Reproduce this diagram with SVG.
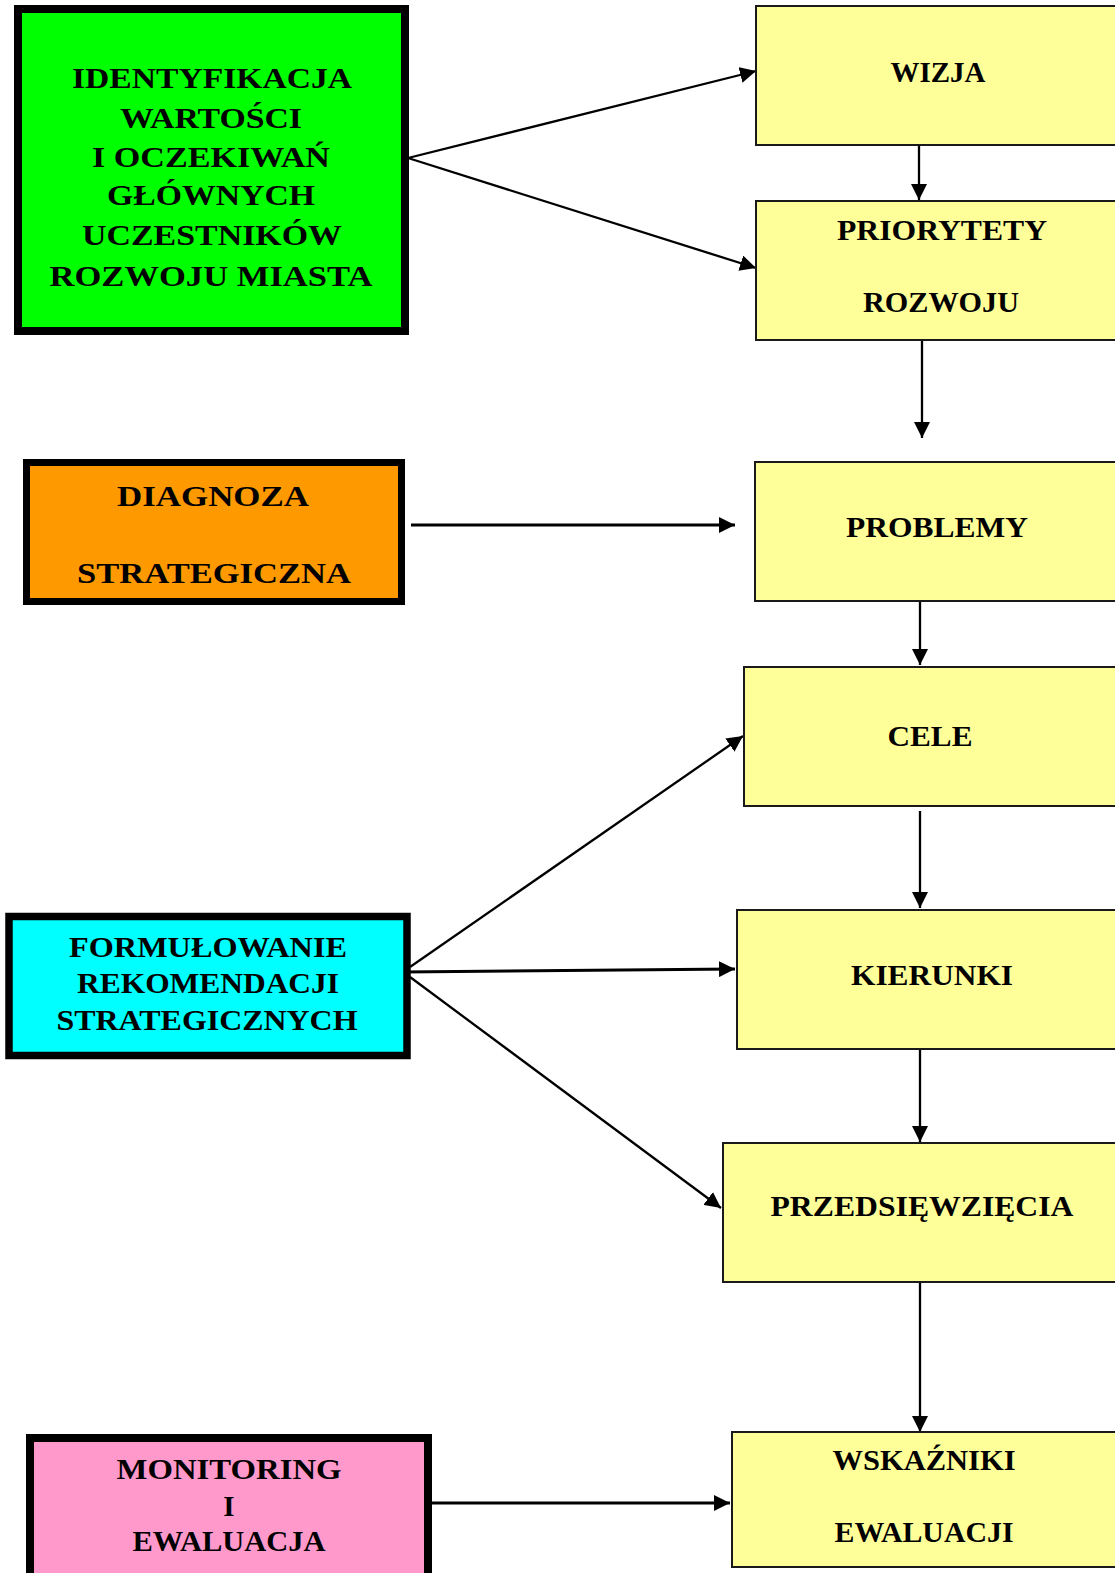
<svg xmlns="http://www.w3.org/2000/svg" width="1115" height="1573" viewBox="0 0 1115 1573">
<style>
.t{font-family:"Liberation Serif","Times New Roman",serif;font-weight:bold;font-size:29px;fill:#000;text-anchor:middle}
.y{fill:#FFFF99;stroke:#1a1a1a;stroke-width:2}
.k{stroke:#000;stroke-width:8}
.c{stroke:#000;stroke-width:2.3;fill:none}
.w{stroke:#000;stroke-width:3;fill:none}
</style>
<defs>
<marker id="ah" markerUnits="userSpaceOnUse" markerWidth="17" markerHeight="16" refX="16" refY="8" orient="auto">
<path d="M0,0 L16,8 L0,16 z" fill="#000"/>
</marker>
</defs>
<rect width="1115" height="1573" fill="#fff"/>

<g id="connectors">
<line class="c" x1="408" y1="158" x2="756" y2="71" marker-end="url(#ah)"/>
<line class="c" x1="408" y1="158" x2="756" y2="268" marker-end="url(#ah)"/>
<line class="c" x1="919" y1="145" x2="919" y2="200" marker-end="url(#ah)"/>
<line class="c" x1="922" y1="340" x2="922" y2="438" marker-end="url(#ah)"/>
<line class="w" x1="411" y1="525" x2="735" y2="525" marker-end="url(#ah)"/>
<line class="c" x1="920" y1="601" x2="920" y2="665" marker-end="url(#ah)"/>
<line class="c" x1="410" y1="967" x2="743" y2="736" marker-end="url(#ah)"/>
<line class="w" x1="403" y1="972" x2="735" y2="969" marker-end="url(#ah)"/>
<line class="c" x1="410" y1="977" x2="721" y2="1208" marker-end="url(#ah)"/>
<line class="c" x1="920" y1="811" x2="920" y2="908" marker-end="url(#ah)"/>
<line class="c" x1="920" y1="1050" x2="920" y2="1142" marker-end="url(#ah)"/>
<line class="c" x1="920" y1="1278" x2="920" y2="1432" marker-end="url(#ah)"/>
<line class="w" x1="432" y1="1503" x2="730" y2="1503" marker-end="url(#ah)"/>
</g>

<g id="n-identyfikacja">
<rect class="k" x="18" y="9" width="387" height="322" fill="#00FF00"/>
<text class="t" x="212" y="88" textLength="280" lengthAdjust="spacingAndGlyphs">IDENTYFIKACJA</text>
<text class="t" x="211" y="128" textLength="182" lengthAdjust="spacingAndGlyphs">WARTOŚCI</text>
<text class="t" x="211" y="167" textLength="238" lengthAdjust="spacingAndGlyphs">I OCZEKIWAŃ</text>
<text class="t" x="211" y="205" textLength="208" lengthAdjust="spacingAndGlyphs">GŁÓWNYCH</text>
<text class="t" x="212" y="245" textLength="260" lengthAdjust="spacingAndGlyphs">UCZESTNIKÓW</text>
<text class="t" x="211" y="286" textLength="323" lengthAdjust="spacingAndGlyphs">ROZWOJU MIASTA</text>
</g>

<g id="n-diagnoza">
<rect class="k" x="26.5" y="462.5" width="375" height="139" fill="#FF9900" style="stroke-width:7"/>
<text class="t" x="213" y="506" textLength="192" lengthAdjust="spacingAndGlyphs">DIAGNOZA</text>
<text class="t" x="214" y="583" textLength="274" lengthAdjust="spacingAndGlyphs">STRATEGICZNA</text>
</g>

<g id="n-formulowanie">
<rect class="k" x="9" y="916.5" width="398" height="139" fill="#00FFFF" style="stroke-width:7.5"/>
<text class="t" x="208" y="957" textLength="278" lengthAdjust="spacingAndGlyphs">FORMUŁOWANIE</text>
<text class="t" x="208" y="993" textLength="262" lengthAdjust="spacingAndGlyphs">REKOMENDACJI</text>
<text class="t" x="207" y="1030" textLength="301" lengthAdjust="spacingAndGlyphs">STRATEGICZNYCH</text>
</g>

<g id="n-monitoring">
<rect class="k" x="30" y="1438" width="398" height="150" fill="#FF99CC"/>
<text class="t" x="229" y="1479" textLength="225" lengthAdjust="spacingAndGlyphs">MONITORING</text>
<text class="t" x="229" y="1516">I</text>
<text class="t" x="229" y="1551" textLength="193" lengthAdjust="spacingAndGlyphs">EWALUACJA</text>
</g>

<g id="n-wizja">
<rect class="y" x="756" y="6" width="370" height="139"/>
<text class="t" x="938" y="82" textLength="95" lengthAdjust="spacingAndGlyphs">WIZJA</text>
</g>

<g id="n-priorytety">
<rect class="y" x="756" y="201" width="370" height="139"/>
<text class="t" x="942" y="240" textLength="210" lengthAdjust="spacingAndGlyphs">PRIORYTETY</text>
<text class="t" x="941" y="312" textLength="156" lengthAdjust="spacingAndGlyphs">ROZWOJU</text>
</g>

<g id="n-problemy">
<rect class="y" x="755" y="462" width="370" height="139"/>
<text class="t" x="937" y="537" textLength="182" lengthAdjust="spacingAndGlyphs">PROBLEMY</text>
</g>

<g id="n-cele">
<rect class="y" x="744" y="667" width="380" height="139"/>
<text class="t" x="930" y="746" textLength="85" lengthAdjust="spacingAndGlyphs">CELE</text>
</g>

<g id="n-kierunki">
<rect class="y" x="737" y="910" width="390" height="139"/>
<text class="t" x="932" y="985" textLength="162" lengthAdjust="spacingAndGlyphs">KIERUNKI</text>
</g>

<g id="n-przedsiewziecia">
<rect class="y" x="723" y="1143" width="400" height="139"/>
<text class="t" x="922" y="1216" textLength="303" lengthAdjust="spacingAndGlyphs">PRZEDSIĘWZIĘCIA</text>
</g>

<g id="n-wskazniki">
<rect class="y" x="732" y="1432" width="395" height="135"/>
<text class="t" x="924" y="1470" textLength="183" lengthAdjust="spacingAndGlyphs">WSKAŹNIKI</text>
<text class="t" x="924" y="1542" textLength="179" lengthAdjust="spacingAndGlyphs">EWALUACJI</text>
</g>
</svg>
